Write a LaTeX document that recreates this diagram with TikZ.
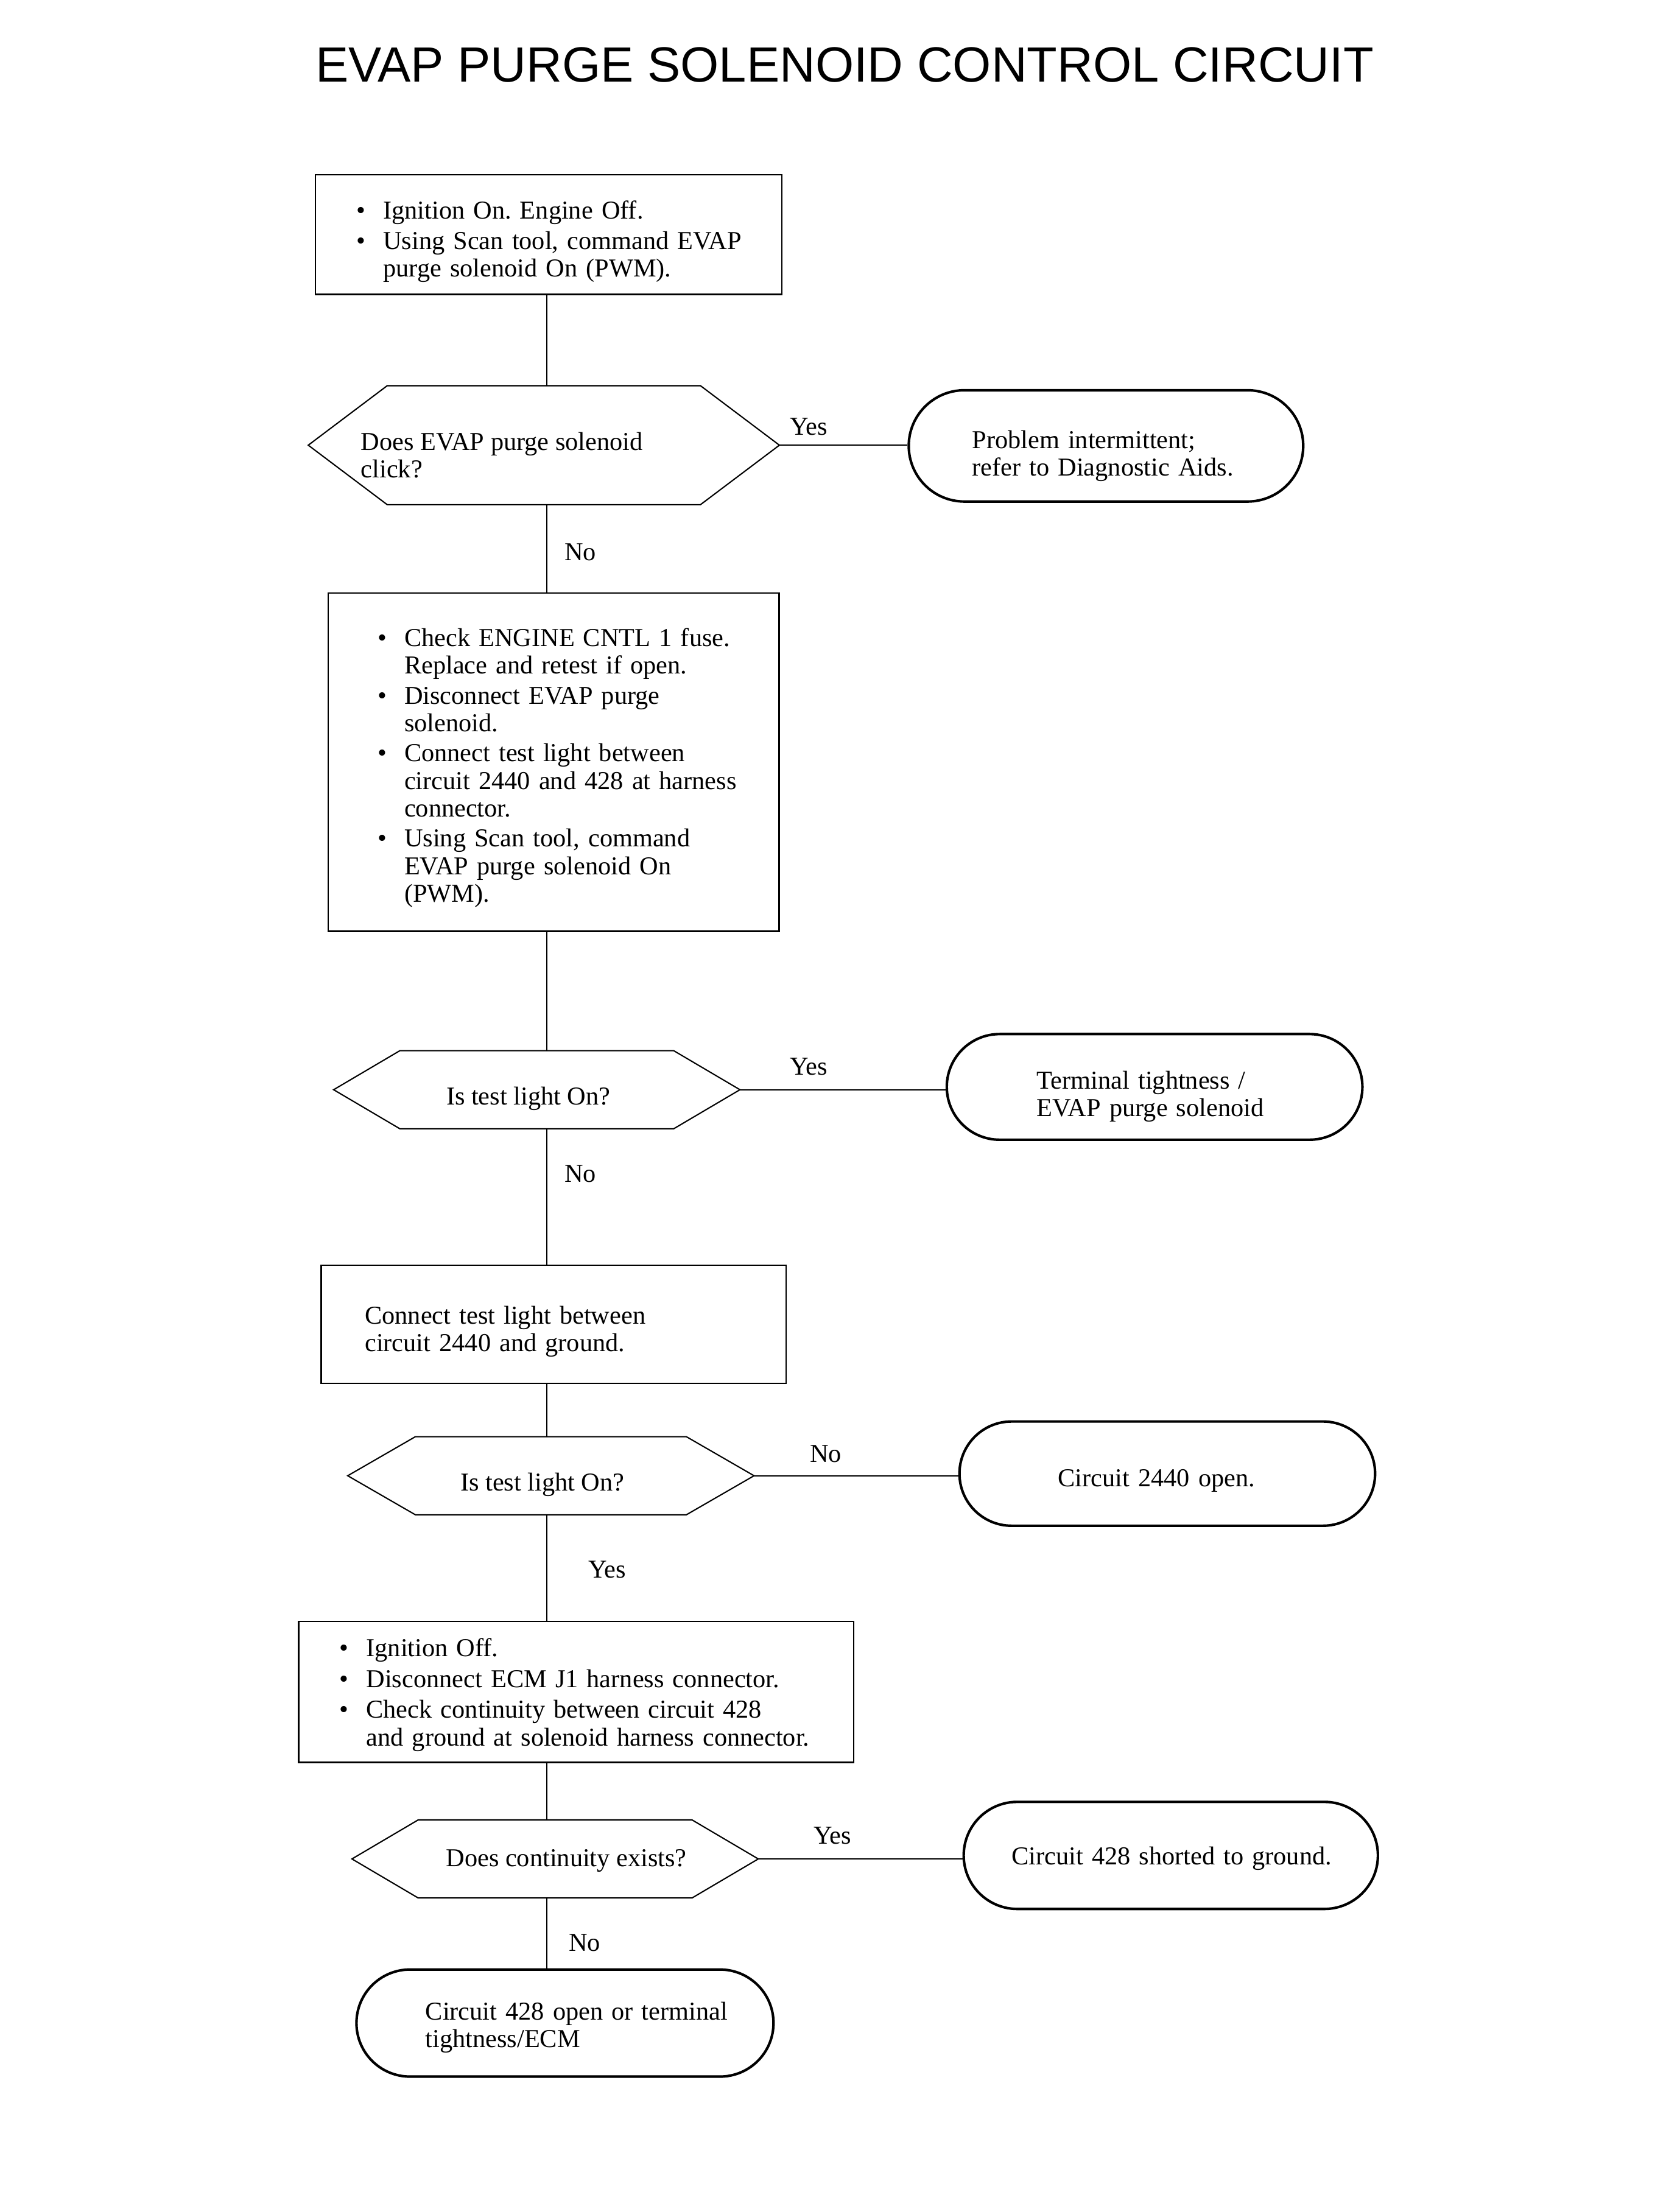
\documentclass[tikz,border=0pt]{standalone}
\usepackage{fontspec}
\usepackage{graphicx}
\setmainfont{Liberation Serif}
\setsansfont{Liberation Sans}
\usetikzlibrary{shapes.misc,calc}
\newcommand{\bul}[1]{\mbox{\makebox[19pt][l]{\textbullet}#1}}
\newcommand{\cnt}[1]{\mbox{\hspace*{19pt}#1}}
\newcommand{\lne}[1]{\mbox{#1}}
\newcommand{\dn}[1]{\rule{0pt}{\dimexpr 12.7pt+#1\relax}}
\newcommand{\hexdraw}[2]{\draw[hexline] (#1.west) -- ($(#1.north west)+(#2,0)$) -- ($(#1.north east)+(-#2,0)$) -- (#1.east) -- ($(#1.south east)+(-#2,0)$) -- ($(#1.south west)+(#2,0)$) -- cycle;}
\begin{document}
\frenchspacing
\begin{tikzpicture}[x=1pt,y=-1pt,
  every node/.style={font=\frenchspacing\fontsize{18.3pt}{19.5pt}\selectfont, inner sep=0pt},
  box/.style={draw, line width=1pt, rectangle, align=left},
  hexn/.style={draw=none, rectangle},
  term/.style={draw, line width=1.8pt, rounded rectangle, align=left},
  txt/.style={anchor=west, align=left},
  vline/.style={line width=0.8pt},
  hline/.style={line width=0.9pt},
  hexline/.style={line width=0.9pt, line join=miter},
  lbl/.style={}]
\useasboundingbox (0,0) rectangle (1192,1568);
\fill[white] (0,0) rectangle (1192,1568);
\coordinate (spine) at (388,0);

\node (title) at (599.5,46) {\resizebox{751pt}{!}{\sffamily EVAP PURGE SOLENOID CONTROL CIRCUIT}};

% boxes
\node[box, minimum width=331pt, minimum height=85pt, text width=273pt] (b1) at (389.5,166.5)
 {\dn{10pt}\bul{Ignition On. Engine Off.}\\[2pt]
  \bul{Using Scan tool, command EVAP}\\
  \cnt{purge solenoid On (PWM).}};

\node[box, minimum width=320pt, minimum height=240pt, text width=250pt] (b2) at (393,541)
 {\dn{8pt}\bul{Check ENGINE CNTL 1 fuse.}\\
  \cnt{Replace and retest if open.}\\[2pt]
  \bul{Disconnect EVAP purge}\\
  \cnt{solenoid.}\\[2pt]
  \bul{Connect test light between}\\
  \cnt{circuit 2440 and 428 at harness}\\
  \cnt{connector.}\\[2pt]
  \bul{Using Scan tool, command}\\
  \cnt{EVAP purge solenoid On}\\
  \cnt{(PWM).}};

\node[box, minimum width=330pt, minimum height=84pt, text width=268pt] (b3) at (393,940)
 {\dn{10pt}\lne{Connect test light between}\\
  \lne{circuit 2440 and ground.}};

\node[box, minimum width=394pt, minimum height=100pt, text width=336pt] (b4) at (409,1201)
 {\dn{4pt}\bul{Ignition Off.}\\[2.5pt]
  \bul{Disconnect ECM J1 harness connector.}\\[2.5pt]
  \bul{Check continuity between circuit 428}\\
  \cnt{and ground at solenoid harness connector.}};

% decisions
\node[hexn, minimum width=334pt, minimum height=84pt] (d1) at (386,316) {};
\hexdraw{d1}{56}
\node[txt] (d1t) at (256,323) {\lne{Does EVAP purge solenoid}\\ \lne{click?}};

\node[hexn, minimum width=288pt, minimum height=55pt] (d2) at (381,773.5) {};
\hexdraw{d2}{47}
\node (d2t) at (375,780) {Is test light On?};

\node[hexn, minimum width=288pt, minimum height=55pt] (d3) at (391,1047.5) {};
\hexdraw{d3}{48}
\node (d3t) at (385,1054) {Is test light On?};

\node[hexn, minimum width=288pt, minimum height=55pt] (d4) at (394,1319.5) {};
\hexdraw{d4}{47}
\node (d4t) at (402,1321) {Does continuity exists?};

% terminals
\node[term, minimum width=280pt, minimum height=79pt, text width=190pt] (o1) at (785,316.5)
 {\dn{14pt}\lne{Problem intermittent;}\\ \lne{refer to Diagnostic Aids.}};
\node[term, minimum width=295pt, minimum height=75pt, text width=167pt] (o2) at (819.5,771.5)
 {\dn{14pt}\lne{Terminal tightness /}\\ \lne{EVAP purge solenoid}};
\node[term, minimum width=295pt, minimum height=74pt, text width=155pt] (o3) at (828.5,1046)
 {\dn{10pt}\lne{Circuit 2440 open.}};
\node[term, minimum width=294pt, minimum height=76pt, text width=226pt] (o4) at (831,1317)
 {\dn{4pt}\lne{Circuit 428 shorted to ground.}};
\node[term, minimum width=296pt, minimum height=76pt, text width=198pt] (o5) at (401,1436)
 {\dn{6pt}\lne{Circuit 428 open or terminal}\\ \lne{tightness/ECM}};

% vertical connectors
\draw[vline] (b1.south -| spine) -- (d1.north -| spine);
\draw[vline] (d1.south -| spine) -- (b2.north -| spine);
\draw[vline] (b2.south -| spine) -- (d2.north -| spine);
\draw[vline] (d2.south -| spine) -- (b3.north -| spine);
\draw[vline] (b3.south -| spine) -- (d3.north -| spine);
\draw[vline] (d3.south -| spine) -- (b4.north -| spine);
\draw[vline] (b4.south -| spine) -- (d4.north -| spine);
\draw[vline] (d4.south -| spine) -- (o5.north -| spine);

% horizontal connectors
\draw[hline] (d1.east) -- (d1.east -| o1.west);
\draw[hline] (d2.east) -- (d2.east -| o2.west);
\draw[hline] (d3.east) -- (d3.east -| o3.west);
\draw[hline] (d4.east) -- (d4.east -| o4.west);

% labels
\node[lbl] (l1) at (574,303) {Yes};
\node[lbl] (l2) at (412,392) {No};
\node[lbl] (l3) at (574,757) {Yes};
\node[lbl] (l4) at (412,833) {No};
\node[lbl] (l5) at (586,1032) {No};
\node[lbl] (l6) at (431,1114) {Yes};
\node[lbl] (l7) at (591,1303) {Yes};
\node[lbl] (l8) at (415,1379) {No};
\end{tikzpicture}
\end{document}
